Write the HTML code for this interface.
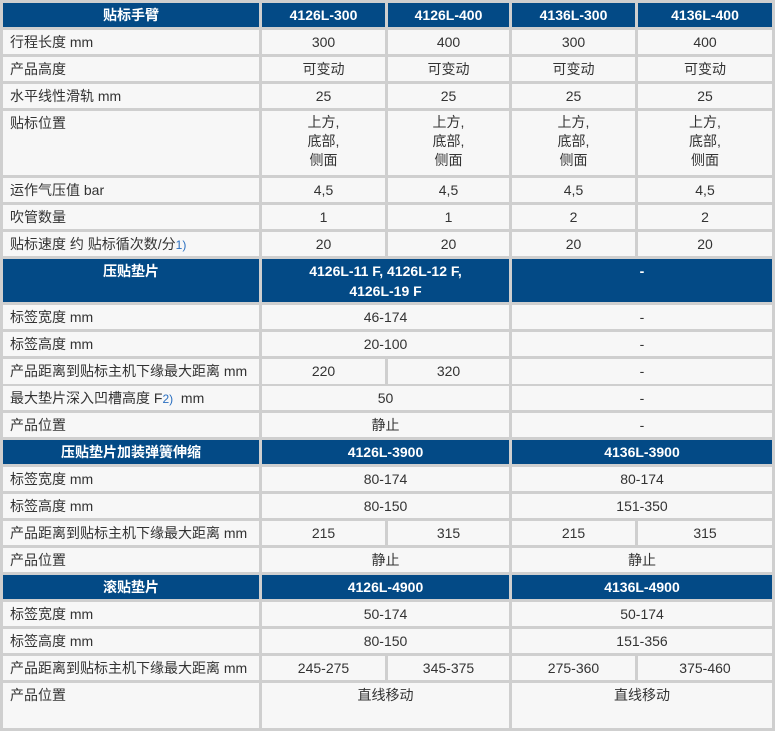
<!DOCTYPE html>
<html><head><meta charset="utf-8"><style>
body{margin:0;background:#fff}
#w{position:relative;width:775px;height:731px;background:#cfcfcf;overflow:hidden;font-family:"Liberation Sans","Noto Sans CJK SC",sans-serif;font-size:14px;color:#333}
.c{position:absolute;background:#f7f7f7;line-height:24px;text-align:center;box-sizing:border-box;white-space:nowrap}
.l{text-align:left;padding-left:7px}
.h{background:#034a86;color:#fff;font-weight:bold;text-align:center;padding-left:0}
.b{color:#2a6fc0;font-size:12px}
</style></head><body><div id="w">
<script>
var X=[3,262,388,512,638,772];
function cell(t,top,h,c0,c1,cls){var d=document.createElement('div');d.className='c '+(cls||'');
var l=X[c0],r=(c1==5?772:X[c1]-3);d.style.left=l+'px';d.style.width=(r-l)+'px';d.style.top=top+'px';d.style.height=h+'px';d.innerHTML=t;document.getElementById('w').appendChild(d);return d;}
function row(top,h,label,vals,hdr){cell(label,top,h,0,1,hdr?'h':'l');var c=1;vals.forEach(function(v){var s=v[1]||1;var d=cell(v[0],top,h,c,c+s,hdr?'h':'');if(v[2])d.style.lineHeight=v[2];if(v[3])d.style.paddingTop=v[3];c+=s;});}
function four(a,b,cc,d){return [[a],[b],[cc],[d]];}
row(3,24,'贴标手臂',four('4126L-300','4126L-400','4136L-300','4136L-400'),1);
row(30,24,'行程长度 mm',four('300','400','300','400'));
row(57,24,'产品高度',four('可变动','可变动','可变动','可变动'));
row(84,24,'水平线性滑轨 mm',four('25','25','25','25'));
var m='<div style="padding-top:2px;line-height:19px">上方,<br>底部,<br>侧面</div>';
row(111,64,'贴标位置',four(m,m,m,m));
row(178,24,'运作气压值 bar',four('4,5','4,5','4,5','4,5'));
row(205,24,'吹管数量',four('1','1','2','2'));
row(232,24,'贴标速度 约 贴标循次数/分<span class="b">1)</span>',four('20','20','20','20'));
row(259,43,'压贴垫片',[['4126L-11 F, 4126L-12 F,<br>4126L-19 F',2,'20px','2px'],['-',2,'24px']],1);
row(305,24,'标签宽度 mm',[['46-174',2],['-',2]]);
row(332,24,'标签高度 mm',[['20-100',2],['-',2]]);
row(359,25,'产品距离到贴标主机下缘最大距离 mm',[['220'],['320'],['-',2]]);
row(386,24,'最大垫片深入凹槽高度 F<span class="b">2)</span>&nbsp; mm',[['50',2],['-',2]]);
row(413,24,'产品位置',[['静止',2],['-',2]]);
row(440,24,'压贴垫片加装弹簧伸缩',[['4126L-3900',2],['4136L-3900',2]],1);
row(467,24,'标签宽度 mm',[['80-174',2],['80-174',2]]);
row(494,24,'标签高度 mm',[['80-150',2],['151-350',2]]);
row(521,24,'产品距离到贴标主机下缘最大距离 mm',four('215','315','215','315'));
row(548,24,'产品位置',[['静止',2],['静止',2]]);
row(575,24,'滚贴垫片',[['4126L-4900',2],['4136L-4900',2]],1);
row(602,24,'标签宽度 mm',[['50-174',2],['50-174',2]]);
row(629,24,'标签高度 mm',[['80-150',2],['151-356',2]]);
row(656,24,'产品距离到贴标主机下缘最大距离 mm',four('245-275','345-375','275-360','375-460'));
row(683,45,'产品位置',[['直线移动',2],['直线移动',2]]);
</script>
</div></body></html>
